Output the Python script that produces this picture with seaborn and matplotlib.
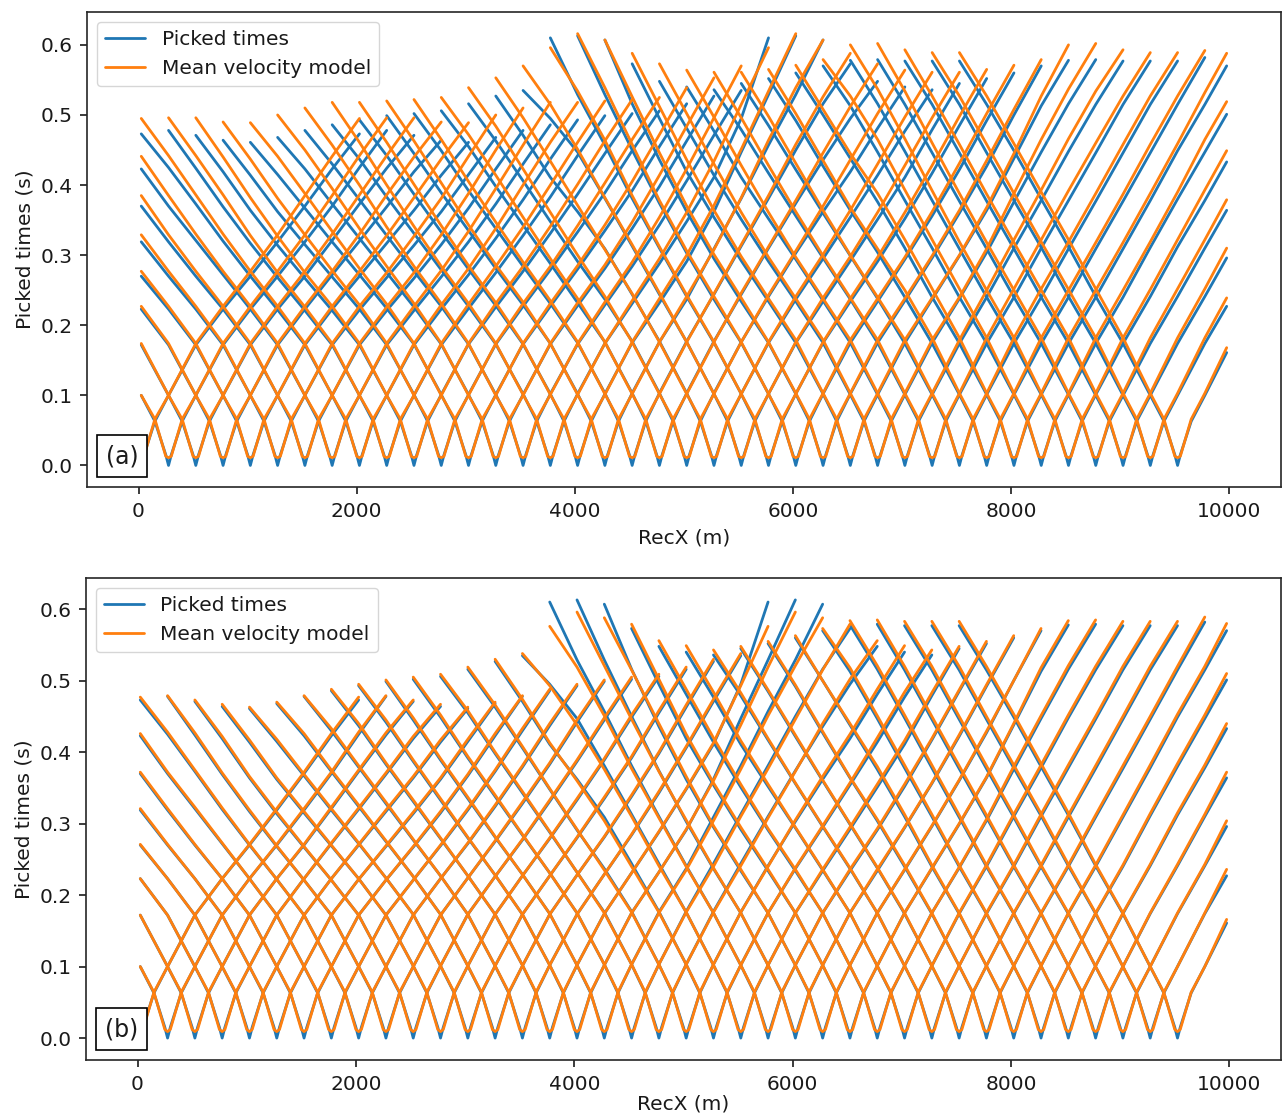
import matplotlib
matplotlib.use("Agg")
import matplotlib.pyplot as plt
import pandas as pd
import seaborn as sns
from matplotlib.lines import Line2D
from matplotlib.offsetbox import AnchoredText

# ---------------- data ----------------
# shot positions (m); receivers also sit on these positions plus the two end receivers
shot_x = [25, 275, 525, 775, 1025, 1275, 1525, 1775, 2025, 2275,
          2525, 2775, 3025, 3275, 3525, 3775, 4025, 4275, 4525, 4775,
          5025, 5275, 5525, 5775, 6025, 6275, 6525, 6775, 7025, 7275,
          7525, 7775, 8025, 8275, 8525, 8775, 9025, 9275, 9525]
end_receivers = [9775, 9975]
pair_offsets = [250, 500, 750, 1000, 1250, 1500, 1750, 2000]
near_offsets = [0, 25, 125]

# near-source times (s)
picked_near = [0.000, 0.015, 0.063]
model_a_near = [0.011, 0.013, 0.066]
model_b_near = [0.009, 0.012, 0.064]

# travel time between shot i and shot i+k  (k = 1..8 -> offsets 250..2000 m)
picked_k1 = [0.100, 0.100, 0.100, 0.100, 0.100, 0.100, 0.100, 0.100, 0.100, 0.100,
             0.101, 0.101, 0.101, 0.101, 0.102, 0.102, 0.102, 0.103, 0.103, 0.103,
             0.103, 0.102, 0.102, 0.102, 0.102, 0.102, 0.101, 0.101, 0.101, 0.101,
             0.101, 0.101, 0.101, 0.101, 0.101, 0.100, 0.100, 0.100]
picked_k2 = [0.172, 0.172, 0.172, 0.172, 0.172, 0.172, 0.172, 0.172, 0.172, 0.172,
             0.173, 0.173, 0.173, 0.173, 0.173, 0.174, 0.175, 0.176, 0.177, 0.177,
             0.176, 0.175, 0.175, 0.175, 0.175, 0.175, 0.175, 0.175, 0.174, 0.174,
             0.174, 0.174, 0.174, 0.174, 0.174, 0.174, 0.174]
picked_k3 = [0.223, 0.223, 0.223, 0.223, 0.223, 0.222, 0.221, 0.221, 0.223, 0.224,
             0.226, 0.227, 0.227, 0.228, 0.229, 0.231, 0.232, 0.237, 0.244, 0.244,
             0.241, 0.237, 0.234, 0.234, 0.234, 0.235, 0.237, 0.238, 0.240, 0.240,
             0.240, 0.240, 0.240, 0.240, 0.241, 0.241]
picked_k4 = [0.270, 0.270, 0.270, 0.272, 0.270, 0.268, 0.267, 0.269, 0.272, 0.275,
             0.277, 0.279, 0.280, 0.281, 0.284, 0.288, 0.291, 0.309, 0.313, 0.310,
             0.303, 0.295, 0.292, 0.291, 0.294, 0.296, 0.299, 0.304, 0.310, 0.310,
             0.309, 0.309, 0.309, 0.311, 0.312]
picked_k5 = [0.319, 0.319, 0.321, 0.320, 0.317, 0.314, 0.315, 0.319, 0.324, 0.328,
             0.331, 0.333, 0.335, 0.338, 0.343, 0.348, 0.362, 0.381, 0.381, 0.374,
             0.362, 0.354, 0.351, 0.352, 0.356, 0.360, 0.364, 0.376, 0.378, 0.378,
             0.377, 0.377, 0.378, 0.380]
picked_k6 = [0.370, 0.370, 0.373, 0.369, 0.364, 0.362, 0.367, 0.373, 0.379, 0.383,
             0.387, 0.389, 0.392, 0.398, 0.406, 0.411, 0.447, 0.457, 0.450, 0.436,
             0.419, 0.414, 0.411, 0.417, 0.422, 0.427, 0.438, 0.447, 0.448, 0.446,
             0.446, 0.446, 0.449]
picked_k7 = [0.423, 0.425, 0.424, 0.419, 0.414, 0.415, 0.423, 0.430, 0.437, 0.442,
             0.445, 0.449, 0.455, 0.463, 0.471, 0.495, 0.529, 0.529, 0.516, 0.495,
             0.481, 0.477, 0.479, 0.485, 0.492, 0.500, 0.513, 0.516, 0.515, 0.515,
             0.515, 0.515]
picked_k8 = [0.473, 0.478, 0.471, 0.464, 0.461, 0.468, 0.478, 0.486, 0.493, 0.499,
             0.502, 0.506, 0.516, 0.527, 0.535, 0.610, 0.613, 0.607, 0.573, 0.548,
             0.540, 0.536, 0.545, 0.552, 0.560, 0.570, 0.578, 0.579, 0.577, 0.577,
             0.577]
picked_9775 = [0.582, 0.515, 0.447, 0.378, 0.310, 0.241, 0.174, 0.100]
picked_9975 = [0.570, 0.501, 0.433, 0.364, 0.296, 0.227, 0.161]

model_a_k1 = [0.100, 0.100, 0.100, 0.100, 0.100, 0.100, 0.100, 0.100, 0.100, 0.100,
              0.100, 0.100, 0.100, 0.100, 0.101, 0.101, 0.101, 0.102, 0.102, 0.102,
              0.102, 0.102, 0.102, 0.102, 0.103, 0.103, 0.103, 0.103, 0.103, 0.103,
              0.103, 0.103, 0.103, 0.103, 0.103, 0.103, 0.103, 0.103]
model_a_k2 = [0.174, 0.174, 0.174, 0.174, 0.174, 0.174, 0.174, 0.174, 0.174, 0.174,
              0.174, 0.174, 0.174, 0.174, 0.174, 0.174, 0.176, 0.176, 0.176, 0.176,
              0.176, 0.176, 0.176, 0.176, 0.179, 0.179, 0.179, 0.179, 0.179, 0.182,
              0.182, 0.182, 0.182, 0.182, 0.182, 0.182, 0.182]
model_a_k3 = [0.227, 0.227, 0.227, 0.227, 0.227, 0.227, 0.226, 0.227, 0.229, 0.230,
              0.231, 0.231, 0.231, 0.232, 0.233, 0.235, 0.238, 0.241, 0.245, 0.246,
              0.243, 0.241, 0.239, 0.238, 0.238, 0.238, 0.239, 0.240, 0.250, 0.252,
              0.252, 0.250, 0.250, 0.250, 0.251, 0.252]
model_a_k4 = [0.277, 0.277, 0.277, 0.277, 0.277, 0.275, 0.275, 0.278, 0.281, 0.284,
              0.284, 0.284, 0.285, 0.286, 0.290, 0.295, 0.300, 0.308, 0.315, 0.312,
              0.306, 0.301, 0.298, 0.297, 0.297, 0.299, 0.300, 0.309, 0.322, 0.322,
              0.319, 0.318, 0.318, 0.319, 0.322]
model_a_k5 = [0.329, 0.329, 0.330, 0.330, 0.328, 0.327, 0.329, 0.334, 0.338, 0.340,
              0.341, 0.342, 0.343, 0.347, 0.354, 0.361, 0.371, 0.382, 0.385, 0.378,
              0.370, 0.364, 0.361, 0.361, 0.362, 0.364, 0.368, 0.388, 0.393, 0.392,
              0.388, 0.387, 0.388, 0.390]
model_a_k6 = [0.385, 0.385, 0.386, 0.386, 0.382, 0.381, 0.388, 0.395, 0.400, 0.400,
              0.401, 0.403, 0.405, 0.414, 0.423, 0.434, 0.451, 0.464, 0.458, 0.446,
              0.436, 0.430, 0.428, 0.428, 0.431, 0.435, 0.445, 0.465, 0.466, 0.460,
              0.458, 0.458, 0.459]
model_a_k7 = [0.441, 0.442, 0.442, 0.440, 0.437, 0.441, 0.450, 0.457, 0.461, 0.461,
              0.463, 0.465, 0.472, 0.484, 0.496, 0.515, 0.534, 0.539, 0.526, 0.512,
              0.502, 0.497, 0.496, 0.498, 0.502, 0.508, 0.527, 0.537, 0.534, 0.527,
              0.527, 0.527]
model_a_k8 = [0.495, 0.496, 0.496, 0.490, 0.489, 0.500, 0.510, 0.518, 0.518, 0.520,
              0.522, 0.525, 0.539, 0.553, 0.570, 0.596, 0.616, 0.607, 0.588, 0.573,
              0.564, 0.561, 0.561, 0.565, 0.571, 0.579, 0.600, 0.602, 0.593, 0.589,
              0.589]
model_a_9775 = [0.592, 0.532, 0.465, 0.393, 0.322, 0.252, 0.182, 0.103]
model_a_9975 = [0.588, 0.519, 0.449, 0.379, 0.310, 0.239, 0.168]

model_b_k1 = [0.100, 0.100, 0.100, 0.100, 0.100, 0.100, 0.100, 0.100, 0.100, 0.100,
              0.101, 0.101, 0.101, 0.101, 0.102, 0.102, 0.102, 0.103, 0.103, 0.103,
              0.103, 0.102, 0.102, 0.102, 0.102, 0.102, 0.101, 0.101, 0.101, 0.101,
              0.101, 0.101, 0.101, 0.101, 0.101, 0.100, 0.100, 0.100]
model_b_k2 = [0.172, 0.172, 0.172, 0.172, 0.172, 0.172, 0.172, 0.172, 0.172, 0.172,
              0.173, 0.173, 0.173, 0.173, 0.173, 0.174, 0.175, 0.175, 0.176, 0.176,
              0.176, 0.175, 0.175, 0.175, 0.175, 0.175, 0.175, 0.175, 0.175, 0.175,
              0.175, 0.175, 0.175, 0.175, 0.175, 0.175, 0.175]
model_b_k3 = [0.223, 0.223, 0.223, 0.223, 0.223, 0.222, 0.221, 0.221, 0.223, 0.224,
              0.226, 0.227, 0.227, 0.228, 0.229, 0.231, 0.232, 0.235, 0.240, 0.241,
              0.240, 0.238, 0.236, 0.236, 0.236, 0.236, 0.238, 0.239, 0.242, 0.242,
              0.242, 0.242, 0.242, 0.242, 0.243, 0.243]
model_b_k4 = [0.271, 0.271, 0.271, 0.273, 0.271, 0.269, 0.268, 0.270, 0.273, 0.276,
              0.278, 0.280, 0.281, 0.282, 0.285, 0.289, 0.292, 0.304, 0.310, 0.308,
              0.305, 0.297, 0.295, 0.293, 0.295, 0.297, 0.300, 0.306, 0.313, 0.313,
              0.312, 0.312, 0.312, 0.314, 0.315]
model_b_k5 = [0.321, 0.321, 0.323, 0.322, 0.319, 0.316, 0.317, 0.321, 0.326, 0.330,
              0.333, 0.335, 0.337, 0.340, 0.345, 0.349, 0.360, 0.376, 0.377, 0.373,
              0.366, 0.357, 0.355, 0.355, 0.357, 0.361, 0.365, 0.380, 0.382, 0.382,
              0.381, 0.381, 0.382, 0.384]
model_b_k6 = [0.372, 0.372, 0.375, 0.371, 0.366, 0.364, 0.369, 0.375, 0.381, 0.385,
              0.389, 0.391, 0.394, 0.400, 0.408, 0.413, 0.438, 0.451, 0.446, 0.440,
              0.425, 0.420, 0.416, 0.419, 0.424, 0.429, 0.440, 0.451, 0.452, 0.450,
              0.450, 0.450, 0.453]
model_b_k7 = [0.426, 0.428, 0.427, 0.422, 0.417, 0.418, 0.426, 0.433, 0.440, 0.445,
              0.448, 0.452, 0.458, 0.466, 0.474, 0.493, 0.519, 0.521, 0.515, 0.502,
              0.488, 0.484, 0.483, 0.487, 0.494, 0.500, 0.518, 0.521, 0.520, 0.520,
              0.520, 0.520]
model_b_k8 = [0.477, 0.479, 0.473, 0.467, 0.463, 0.470, 0.479, 0.488, 0.495, 0.501,
              0.505, 0.509, 0.519, 0.530, 0.538, 0.576, 0.596, 0.588, 0.579, 0.556,
              0.549, 0.543, 0.548, 0.555, 0.563, 0.573, 0.584, 0.585, 0.583, 0.583,
              0.583]
model_b_9775 = [0.589, 0.520, 0.452, 0.382, 0.313, 0.243, 0.175, 0.100]
model_b_9975 = [0.580, 0.510, 0.440, 0.372, 0.304, 0.236, 0.166]

series_labels = ["Picked times", "Mean velocity model"]
panel_labels = ["(a)", "(b)"]

picked_pairs = [picked_k1, picked_k2, picked_k3, picked_k4,
                picked_k5, picked_k6, picked_k7, picked_k8]
model_a_pairs = [model_a_k1, model_a_k2, model_a_k3, model_a_k4,
                 model_a_k5, model_a_k6, model_a_k7, model_a_k8]
model_b_pairs = [model_b_k1, model_b_k2, model_b_k3, model_b_k4,
                 model_b_k5, model_b_k6, model_b_k7, model_b_k8]


def gather_rows(pairs, t9775, t9975, near, label):
    """Arrange the tabulated times as one polyline per shot (left end -> right end)."""
    rows = []
    n = len(shot_x)
    first_rec = shot_x[0]
    for i, s in enumerate(shot_x):
        pts = []
        # left branch, far to near
        for k in range(min(8, i), 0, -1):
            pts.append((shot_x[i - k], pairs[k - 1][i - k]))
        for off, t in zip(near_offsets[:0:-1], near[:0:-1]):
            if s - off >= first_rec:
                pts.append((s - off, t))
        pts.append((s, near[0]))
        for off, t in zip(near_offsets[1:], near[1:]):
            pts.append((s + off, t))
        # right branch, near to far
        for k in range(1, 9):
            j = i + k
            if j < n:
                pts.append((shot_x[j], pairs[k - 1][i]))
            elif j == n:
                pts.append((end_receivers[0], t9775[i - (n - 8)]))
            else:
                break
        if i >= n - 7:
            pts.append((end_receivers[1], t9975[i - (n - 7)]))
        for x, t in pts:
            rows.append({"RecX": x, "t": t, "series": label, "shot": i})
    return rows


sns.set_theme(style="ticks")
plt.rcParams.update({
    "font.family": ["DejaVu Sans"],
    "font.size": 14.5,
    "axes.labelsize": 14.5,
    "xtick.labelsize": 14.5,
    "ytick.labelsize": 14.5,
    "legend.fontsize": 14.5,
    "axes.linewidth": 1.2,
    "axes.edgecolor": "0.15",
    "xtick.major.size": 5,
    "ytick.major.size": 5,
    "xtick.major.width": 1.2,
    "ytick.major.width": 1.2,
    "xtick.major.pad": 6,
    "ytick.major.pad": 5,
    "axes.labelpad": 5,
    "text.color": "0.1",
    "axes.labelcolor": "0.1",
    "xtick.color": "0.1",
    "ytick.color": "0.1",
})

blue = "#1f77b4"
orange = "#ff7f0e"
lw = 2.0

fig = plt.figure(figsize=(12.83, 11.16), dpi=100)
ax_a = fig.add_axes([0.0678, 0.5636, 0.9306, 0.4256])
ax_b = fig.add_axes([0.0670, 0.0502, 0.9314, 0.4319])

panels = [(ax_a, model_a_pairs, model_a_9775, model_a_9975, model_a_near, panel_labels[0], 5),
          (ax_b, model_b_pairs, model_b_9775, model_b_9975, model_b_near, panel_labels[1], 0)]

for ax, mpairs, m9775, m9975, mnear, plabel, xlpad in panels:
    rows = gather_rows(picked_pairs, picked_9775, picked_9975, picked_near, series_labels[0])
    rows += gather_rows(mpairs, m9775, m9975, mnear, series_labels[1])
    df = pd.DataFrame(rows)
    sns.lineplot(data=df, x="RecX", y="t", hue="series", hue_order=series_labels,
                 units="shot", estimator=None, sort=False,
                 palette=[blue, orange], linewidth=lw, legend=False, ax=ax)
    ax.set_xlabel("RecX (m)", labelpad=xlpad)
    ax.set_ylabel("Picked times (s)")
    handles = [Line2D([], [], color=blue, lw=lw), Line2D([], [], color=orange, lw=lw)]
    ax.legend(handles, series_labels, loc="upper left", frameon=True)
    at = AnchoredText(plabel, loc="lower left", prop=dict(size=17),
                      frameon=True, pad=0.38, borderpad=0.42)
    at.patch.set_boxstyle("square,pad=0")
    at.patch.set_edgecolor("black")
    at.patch.set_linewidth(1.2)
    ax.add_artist(at)
    for sp in ax.spines.values():
        sp.set_visible(True)

fig.savefig("out.png", dpi=100)
